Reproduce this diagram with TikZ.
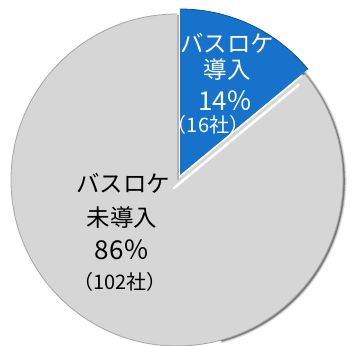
\documentclass[tikz,border=0pt]{standalone}
\usepackage{fontspec}
\setmainfont{Noto Sans CJK JP}
\usetikzlibrary{positioning}
\definecolor{sliceBlue}{RGB}{22,114,202}
\definecolor{sliceGray}{RGB}{214,214,214}

\begin{document}
\begin{tikzpicture}[x=1pt,y=1pt]
  \tikzstyle{nameT}=[inner sep=0pt,font=\fontsize{23.5}{23.5}\selectfont]
  \tikzstyle{pctT}=[inner sep=0pt,font=\fontsize{26}{26}\selectfont]
  \tikzstyle{cntT}=[inner sep=0pt,font=\fontsize{20}{20}\selectfont]
  \useasboundingbox (0,0) rectangle (352,345);
  \fill[white] (0,0) rectangle (352,345);

  % slice apexes
  \coordinate (g_c) at (177,165);
  \coordinate (b_c) at (180,170);

  % gray slice with shadow
  \foreach \w/\o in {6/0.10,4/0.18,2.5/0.35}
    \draw[black,line width=\w pt,opacity=\o] ([shift={(1.5,-1)}]g_c) ++(-75:165)
      arc[start angle=-75, end angle=55, radius=165];
  \fill[sliceGray] (g_c) -- ++(90:166) arc[start angle=90, end angle=399.6, radius=166] -- cycle;
  \draw[gray!70,line width=0.8pt] (g_c) ++(90:166) arc[start angle=90, end angle=399.6, radius=166];
  \draw[white,line width=2.5pt,line cap=round] ([shift={(-3,-8)}]g_c) -- ++(39.6:162);
  \draw[gray!60,line width=2pt] ([shift={(1,0)}]g_c) -- ++(90:165);

  % blue slice
  \fill[sliceBlue] (b_c) -- ++(39.6:166) arc[start angle=39.6, end angle=90, radius=166] -- cycle;
  \draw[sliceBlue!70!black,line width=0.8pt] (b_c) ++(39.6:166) arc[start angle=39.6, end angle=90, radius=166];

  % blue labels
  \node[nameT,text=white] (b_name1) at (227,302) {バスロケ};
  \node[nameT,text=white] (b_name2) at (227,275) {導入};
  \node[pctT,text=white]  (b_pct)   at (225.5,244) {14％};
  \node[cntT,text=white]  (b_cnt)   at (208,220) {（16社）};

  % gray labels
  \node[nameT] (g_name1) at (123,162) {バスロケ};
  \node[nameT] (g_name2) at (122,127) {未導入};
  \node[pctT]  (g_pct)   at (122,95)  {86％};
  \node[cntT]  (g_cnt)   at (120,63)  {（102社）};
\end{tikzpicture}
\end{document}
